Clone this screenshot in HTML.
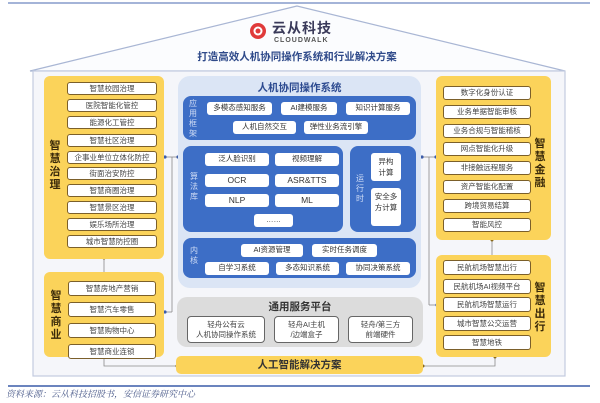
<!DOCTYPE html>
<html><head><meta charset="utf-8"><style>
*{margin:0;padding:0;box-sizing:border-box}
body{width:600px;height:403px;background:#fff;position:relative;overflow:hidden;font-family:"Liberation Sans","Noto Sans CJK SC",sans-serif}
.a{position:absolute}
.yp{position:absolute;background:#fbd35a;border-radius:6px}
.wb{position:absolute;background:#fff;border:1.3px solid #7b5f2a;border-radius:3px;font-size:7.5px;color:#444;text-align:center;line-height:11px;height:13px}
.db{position:absolute;background:#3d6ec6;border-radius:8px}
.bb{position:absolute;background:#fff;border-radius:3px;font-size:7.5px;color:#333;text-align:center;line-height:12px;height:13px}
.vl{position:absolute;color:#cfdcf5;font-size:8px;line-height:10px;width:10px;text-align:center}
.yl{position:absolute;color:#3a2a0a;font-size:11px;font-weight:bold;line-height:13px;width:12px;text-align:center}
.gb{position:absolute;background:#fff;border:1.3px solid #666;border-radius:4px;font-size:7.5px;color:#444;text-align:center;line-height:10px;padding-top:3px;height:27px}
</style></head><body>
<svg class="a" style="left:0;top:0" width="600" height="403">
<line x1="8" y1="3" x2="590" y2="3" stroke="#6d86c0" stroke-width="1.2"/>
<polygon points="297,6 30,71 565,71" fill="#fbfcfe" stroke="#a9b6d4" stroke-width="1.2"/>
<rect x="33" y="71" width="532" height="305" fill="#f5f6fa" stroke="#c3cbe0" stroke-width="1.2"/>
<line x1="8" y1="386" x2="590" y2="386" stroke="#3a5ba8" stroke-width="1.5"/>
<g stroke="#8a8a8a" stroke-width="0.8" fill="none">
<line x1="165" y1="157" x2="178" y2="157"/><line x1="172" y1="157" x2="172" y2="312"/><line x1="165" y1="312" x2="172" y2="312"/>
<line x1="422" y1="157" x2="436" y2="157"/><line x1="429" y1="157" x2="429" y2="305"/><line x1="429" y1="305" x2="437" y2="305"/>
<line x1="104" y1="258" x2="104" y2="272"/><line x1="492" y1="240" x2="492" y2="255"/>
<polyline points="104,357 104,366 177,366"/><polyline points="495,357 495,366 423,366"/>
</g>
<g fill="#3b5ba8"><circle cx="165" cy="157" r="1.6"/><circle cx="178" cy="157" r="1.6"/><circle cx="422" cy="157" r="1.6"/><circle cx="436" cy="157" r="1.6"/><circle cx="165" cy="312" r="1.6"/><circle cx="437" cy="305" r="1.6"/></g>
<g fill="#8a6a1a"><circle cx="104" cy="258" r="1.5"/><circle cx="492" cy="240" r="1.5"/><circle cx="104" cy="357" r="1.5"/><circle cx="495" cy="357" r="1.5"/><circle cx="177" cy="366" r="1.5"/><circle cx="423" cy="366" r="1.5"/></g>
<circle cx="258" cy="31" r="8" fill="#e03a3a"/><circle cx="258" cy="31" r="4.5" fill="#fff"/><circle cx="258" cy="31" r="2.5" fill="#e03a3a"/>
</svg>
<div class="a" style="left:272px;top:20px;font-size:14px;line-height:16px;font-weight:bold;color:#3a3a5a;letter-spacing:1px">云从科技</div>
<div class="a" style="left:274px;top:37px;font-size:7px;line-height:8px;font-weight:bold;color:#555;letter-spacing:1px">CLOUDWALK</div>
<div class="a" style="left:170px;top:49px;width:254px;text-align:center;font-size:10.5px;font-weight:bold;color:#2f4a8a">打造高效人机协同操作系统和行业解决方案</div>

<div class="yp" style="left:44px;top:76px;width:120px;height:183px"></div>
<div class="yl" style="left:49px;top:140px">智<br>慧<br>治<br>理</div>
<div class="wb" style="left:67px;top:82px;width:90px">智慧校园治理</div>
<div class="wb" style="left:67px;top:99px;width:90px">医院智能化管控</div>
<div class="wb" style="left:67px;top:116px;width:90px">能源化工管控</div>
<div class="wb" style="left:67px;top:134px;width:90px">智慧社区治理</div>
<div class="wb" style="left:67px;top:151px;width:90px">企事业单位立体化防控</div>
<div class="wb" style="left:67px;top:167px;width:90px">街面治安防控</div>
<div class="wb" style="left:67px;top:184px;width:90px">智慧商圈治理</div>
<div class="wb" style="left:67px;top:201px;width:90px">智慧景区治理</div>
<div class="wb" style="left:67px;top:218px;width:90px">娱乐场所治理</div>
<div class="wb" style="left:67px;top:235px;width:90px">城市智慧防控圈</div>

<div class="yp" style="left:44px;top:272px;width:120px;height:85px"></div>
<div class="yl" style="left:50px;top:290px">智<br>慧<br>商<br>业</div>
<div class="wb" style="left:68px;top:281px;width:88px;height:15px;line-height:13px">智慧房地产营销</div>
<div class="wb" style="left:68px;top:302px;width:88px;height:15px;line-height:13px">智慧汽车零售</div>
<div class="wb" style="left:68px;top:323px;width:88px;height:15px;line-height:13px">智慧购物中心</div>
<div class="wb" style="left:68px;top:344px;width:88px;height:15px;line-height:13px">智慧商业连锁</div>

<div class="a" style="left:178px;top:76px;width:243px;height:212px;background:#dbe5f5;border-radius:12px"></div>
<div class="a" style="left:178px;top:80px;width:243px;text-align:center;font-size:10.5px;font-weight:bold;color:#2c4a90">人机协同操作系统</div>
<div class="db" style="left:183px;top:96px;width:233px;height:44px"></div>
<div class="vl" style="left:188px;top:99px">应<br>用<br>框<br>架</div>
<div class="bb" style="left:207px;top:102px;width:65px">多模态感知服务</div>
<div class="bb" style="left:281px;top:102px;width:56px">AI建模服务</div>
<div class="bb" style="left:346px;top:102px;width:64px">知识计算服务</div>
<div class="bb" style="left:233px;top:121px;width:63px">人机自然交互</div>
<div class="bb" style="left:304px;top:121px;width:64px">弹性业务流引擎</div>

<div class="db" style="left:183px;top:146px;width:160px;height:86px"></div>
<div class="vl" style="left:189px;top:172px">算<br>法<br>库</div>
<div class="bb" style="left:205px;top:153px;width:64px">泛人脸识别</div>
<div class="bb" style="left:275px;top:153px;width:64px">视频理解</div>
<div class="bb" style="left:205px;top:174px;width:64px;font-size:8.5px">OCR</div>
<div class="bb" style="left:275px;top:174px;width:64px;font-size:8.5px">ASR&amp;TTS</div>
<div class="bb" style="left:205px;top:194px;width:64px;font-size:8.5px">NLP</div>
<div class="bb" style="left:275px;top:194px;width:64px;font-size:8.5px">ML</div>
<div class="bb" style="left:254px;top:214px;width:39px">……</div>
<div class="db" style="left:350px;top:146px;width:66px;height:86px"></div>
<div class="vl" style="left:355px;top:174px">运<br>行<br>时</div>
<div class="bb" style="left:371px;top:153px;width:30px;height:28px;line-height:11px;padding-top:3px">异构<br>计算</div>
<div class="bb" style="left:371px;top:188px;width:30px;height:38px;line-height:11px;padding-top:3px">安全多<br>方计算</div>

<div class="db" style="left:183px;top:238px;width:233px;height:40px"></div>
<div class="vl" style="left:189px;top:246px">内<br>核</div>
<div class="bb" style="left:241px;top:244px;width:62px">AI资源管理</div>
<div class="bb" style="left:312px;top:244px;width:65px">实时任务调度</div>
<div class="bb" style="left:205px;top:262px;width:64px">自学习系统</div>
<div class="bb" style="left:276px;top:262px;width:63px">多态知识系统</div>
<div class="bb" style="left:346px;top:262px;width:64px">协同决策系统</div>

<div class="a" style="left:177px;top:297px;width:246px;height:50px;background:#dcdcdc;border-radius:10px"></div>
<div class="a" style="left:177px;top:299px;width:246px;text-align:center;font-size:10.5px;font-weight:bold;color:#333">通用服务平台</div>
<div class="gb" style="left:187px;top:316px;width:78px">轻舟公有云<br>人机协同操作系统</div>
<div class="gb" style="left:274px;top:316px;width:65px">轻舟AI主机<br>/边端盒子</div>
<div class="gb" style="left:348px;top:316px;width:65px">轻舟/第三方<br>前端硬件</div>

<div class="a" style="left:176px;top:356px;width:247px;height:18px;background:#fbd35a;border-radius:5px;text-align:center;font-size:10.5px;font-weight:bold;color:#333;line-height:18px">人工智能解决方案</div>

<div class="yp" style="left:436px;top:76px;width:115px;height:164px"></div>
<div class="yl" style="left:534px;top:138px">智<br>慧<br>金<br>融</div>
<div class="wb" style="left:443px;top:86px;width:88px;height:14px">数字化身份认证</div>
<div class="wb" style="left:443px;top:105px;width:88px;height:14px">业务单据智能审核</div>
<div class="wb" style="left:443px;top:124px;width:88px;height:14px">业务合规与智能稽核</div>
<div class="wb" style="left:443px;top:142px;width:88px;height:14px">网点智能化升级</div>
<div class="wb" style="left:443px;top:161px;width:88px;height:14px">非接触远程服务</div>
<div class="wb" style="left:443px;top:180px;width:88px;height:14px">资产智能化配置</div>
<div class="wb" style="left:443px;top:199px;width:88px;height:14px">跨境贸易结算</div>
<div class="wb" style="left:443px;top:218px;width:88px;height:14px">智能风控</div>

<div class="yp" style="left:436px;top:255px;width:115px;height:102px"></div>
<div class="yl" style="left:534px;top:282px">智<br>慧<br>出<br>行</div>
<div class="wb" style="left:443px;top:260px;width:88px;height:15px;line-height:13px">民航机场智慧出行</div>
<div class="wb" style="left:443px;top:279px;width:88px;height:15px;line-height:13px">民航机场AI视频平台</div>
<div class="wb" style="left:443px;top:297px;width:88px;height:15px;line-height:13px">民航机场智慧运行</div>
<div class="wb" style="left:443px;top:316px;width:88px;height:15px;line-height:13px">城市智慧公交运营</div>
<div class="wb" style="left:443px;top:335px;width:88px;height:15px;line-height:13px">智慧地铁</div>

<div class="a" style="left:6px;top:387px;font-size:9px;font-style:italic;color:#4a5a8a;font-family:'Liberation Serif','Noto Serif CJK SC',serif">资料来源：云从科技招股书，安信证券研究中心</div>
</body></html>
